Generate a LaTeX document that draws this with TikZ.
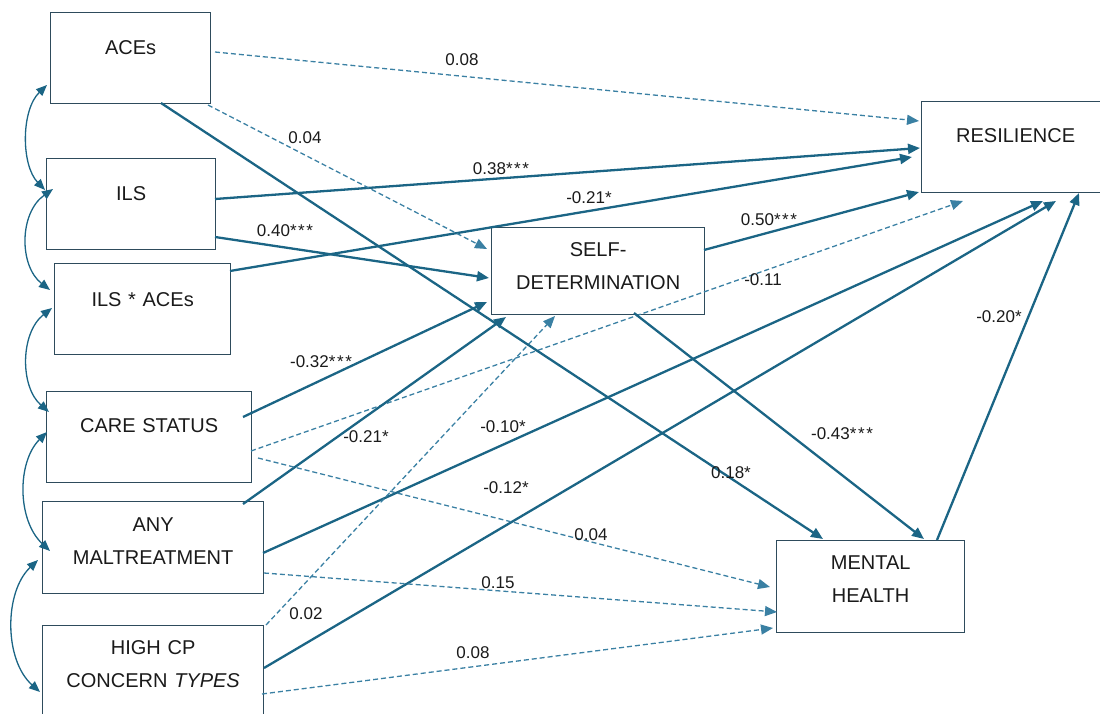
\documentclass[tikz,border=0pt]{standalone}
\usepackage{fontspec}
\setmainfont{Liberation Sans}
\usetikzlibrary{arrows.meta,calc}
\definecolor{pathblue}{HTML}{1B6585}
\definecolor{dashblue}{HTML}{3A80A3}
\definecolor{boxline}{HTML}{2E4B5C}
\definecolor{ink}{HTML}{1A1A1A}
% spaced significance stars
\newcommand{\sigstars}[1]{\ifcase#1\or*\or*\kern1.6pt*\or*\kern1.6pt*\kern1.6pt*\fi}
\begin{document}
\begin{tikzpicture}[x=1pt,y=-1pt,
  varbox/.style={draw=boxline, line width=1.3pt, inner xsep=0pt, inner ysep=0pt,
    anchor=north west, align=center, text=ink,
    font=\fontsize{20}{33}\selectfont},
  coef/.style={text=ink, inner sep=0pt, font=\fontsize{17}{18}\selectfont},
  sig/.style={draw=pathblue, line width=2.3pt, -{Triangle[length=12pt,width=10pt]}},
  nonsig/.style={draw=dashblue, line width=1.3pt, dash pattern=on 5pt off 3pt,
    -{Triangle[length=12pt,width=10pt]}},
  covar/.style={draw=pathblue, line width=1.3pt,
    {Triangle[length=11pt,width=9pt]}-{Triangle[length=11pt,width=9pt]}}
]
\useasboundingbox (0,0) rectangle (1100,714);
\clip (0,0) rectangle (1100,714);

% ---------- variables ----------
\node[varbox, text width=160pt, text height=42pt, text depth=49pt] (aces) at (50,12) {ACEs};
\node[varbox, text width=169pt, text height=42pt, text depth=49pt] (ils) at (46,158) {ILS};
\node[varbox, text width=176pt, text height=43pt, text depth=48pt] (ilsx) at (54,263) {ILS * ACEs};
\node[varbox, text width=205pt, text height=41pt, text depth=50pt] (care) at (46,391) {CARE STATUS};
\node[varbox, text width=221pt, text height=30pt, text depth=62pt] (anymal) at (42,501) {ANY\\MALTREATMENT};
\node[varbox, text width=221pt, text height=29pt, text depth=64pt] (highcp) at (42,625) {HIGH CP\\CONCERN \textit{TYPES}};
\node[varbox, text width=213pt, text height=29pt, text depth=58pt] (sd) at (491,227) {SELF-\\DETERMINATION};
\node[varbox, text width=188pt, text height=41pt, text depth=50pt] (res) at (921,101) {RESILIENCE};
\node[varbox, text width=188pt, text height=29pt, text depth=63pt] (mh) at (776,540) {MENTAL\\HEALTH};

% ---------- paths to resilience ----------
\draw[nonsig] ($(aces.north west)+(165,40)$) -- ($(res.north west)+(-2,20)$);
\draw[sig] ($(ils.north west)+(169,41)$) -- ($(res.north west)+(-1,47)$);
\draw[sig] ($(ilsx.north west)+(176,8)$) -- ($(res.north west)+(-9,56)$);
\draw[sig] ($(sd.north west)+(213,23)$) -- ($(res.north west)+(-2,91)$);
\draw[nonsig] ($(care.north west)+(205,60)$) -- ($(res.north west)+(42,100)$);
\draw[sig] ($(anymal.north west)+(221,52)$) -- ($(res.north west)+(122,100)$);
\draw[sig] ($(highcp.north west)+(222,43)$) -- ($(res.north west)+(135,100)$);
\draw[sig] ($(mh.north west)+(161,0)$) -- ($(res.north west)+(158,92)$);

% ---------- paths to self-determination ----------
\draw[nonsig] ($(aces.north west)+(158,93)$) -- ($(sd.north west)+(-4,22)$);
\draw[sig] ($(ils.north west)+(169,79)$) -- ($(sd.north west)+(-2,51)$);
\draw[sig] ($(care.north west)+(197,26)$) -- ($(sd.north west)+(-4,75)$);
\draw[sig] ($(anymal.north west)+(201,3)$) -- ($(sd.north west)+(15,90)$);
\draw[nonsig] ($(highcp.north west)+(224,0)$) -- ($(sd.north west)+(64,89)$);

% ---------- paths to mental health ----------
\draw[sig] ($(aces.north west)+(111,91)$) -- ($(mh.north west)+(47,-1)$);
\draw[sig] ($(sd.north west)+(143,86)$) -- ($(mh.north west)+(148,-1)$);
\draw[nonsig] ($(care.north west)+(212,67)$) -- ($(mh.north west)+(-6,47)$);
\draw[nonsig] ($(anymal.north west)+(222,72)$) -- ($(mh.north west)+(1,72)$);
\draw[nonsig] ($(highcp.north west)+(220,69)$) -- ($(mh.north west)+(-3,88)$);

% ---------- covariances between predictors ----------
\draw[covar] ($(aces.north west)+(-3,73)$) .. controls (21,110) and (21,165) .. ($(ils.north west)+(-1,32)$);
\draw[covar] ($(ils.north west)+(7,31)$) .. controls (19,213) and (19,266) .. ($(ilsx.north west)+(-4,27)$);
\draw[covar] ($(ilsx.north west)+(-2,45)$) .. controls (20,333) and (20,387) .. ($(care.north west)+(3,21)$);
\draw[covar] ($(care.north west)+(1,41)$) .. controls (17,462) and (17,520) .. ($(anymal.north west)+(8,50)$);
\draw[covar] ($(anymal.north west)+(-4,59)$) .. controls (4,592) and (4,660) .. ($(highcp.north west)+(-2,67)$);

% ---------- coefficients ----------
\node[coef] (c-aces-res) at (462,60) {0.08};
\node[coef] (c-aces-sd) at (305,138) {0.04};
\node[coef] (c-ils-res) at (501,169) {0.38\sigstars{3}};
\node[coef] (c-ils-sd) at (285,231) {0.40\sigstars{3}};
\node[coef] (c-ilsx-res) at (589,198) {-0.21\sigstars{1}};
\node[coef] (c-sd-res) at (769,220) {0.50\sigstars{3}};
\node[coef] (c-care-res) at (763,280) {-0.11};
\node[coef] (c-care-sd) at (321,362) {-0.32\sigstars{3}};
\node[coef] (c-any-sd) at (366,437) {-0.21\sigstars{1}};
\node[coef] (c-any-res) at (503,427) {-0.10\sigstars{1}};
\node[coef] (c-high-res) at (506,488) {-0.12\sigstars{1}};
\node[coef] (c-aces-mh) at (731,473) {0.18\sigstars{1}};
\node[coef] (c-sd-mh) at (842,434) {-0.43\sigstars{3}};
\node[coef] (c-mh-res) at (999,317) {-0.20\sigstars{1}};
\node[coef] (c-care-mh) at (591,535) {0.04};
\node[coef] (c-any-mh) at (498,583) {0.15};
\node[coef] (c-high-sd) at (306,614) {0.02};
\node[coef] (c-high-mh) at (473,653) {0.08};
\end{tikzpicture}
\end{document}
